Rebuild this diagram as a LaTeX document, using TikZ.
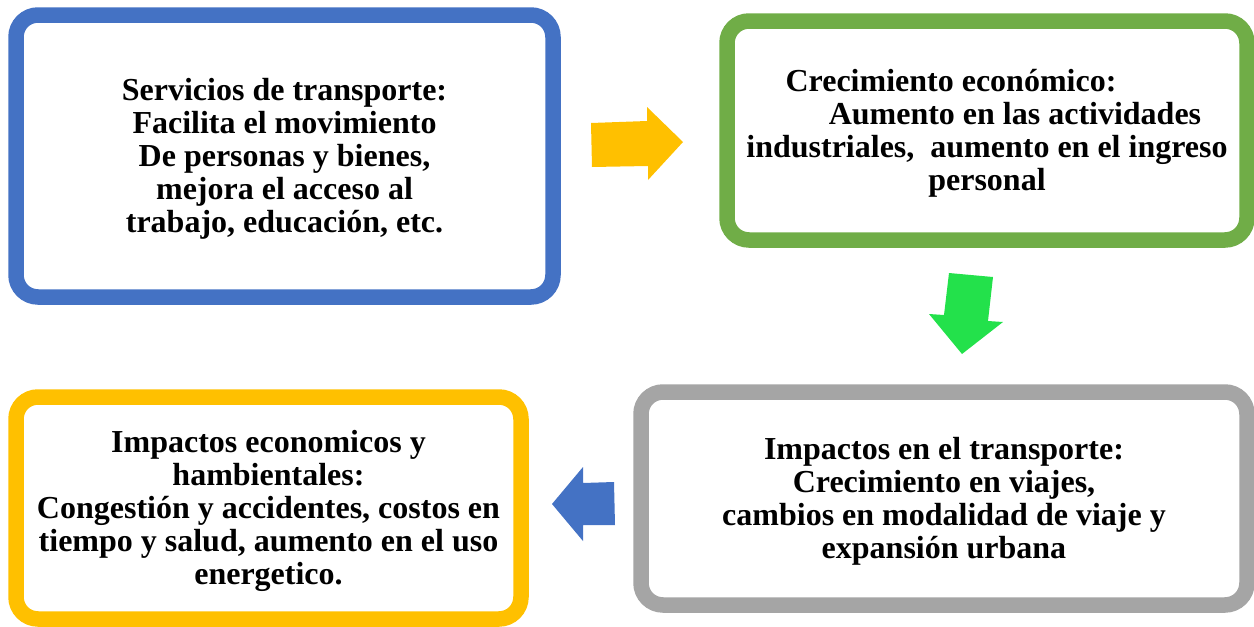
\documentclass[tikz,border=0pt]{standalone}
\usepackage{fontspec}
\setmainfont{Liberation Serif}
\definecolor{boxblue}{RGB}{68,114,196}
\definecolor{boxgreen}{RGB}{112,173,71}
\definecolor{boxgray}{RGB}{165,165,165}
\definecolor{boxyellow}{RGB}{255,192,0}
\definecolor{arrowgreen}{RGB}{35,225,75}
\tikzset{every picture/.style={/utils/exec={\bfseries}}}
\tikzset{flowbox/.style={draw=#1, line width=7.75pt, rounded corners=11pt, inner sep=0pt},
  boxtext/.style={align=center, inner sep=0pt, font=\fontsize{16}{16.5}\selectfont\bfseries}}

\begin{document}
\begin{tikzpicture}[x=0.5pt, y=-0.5pt]
  \useasboundingbox (0,0) rectangle (1254,627);

  \node [flowbox=boxblue, minimum width=268.5pt, minimum height=141pt] (serv) at (284.5,156) {};
  \node [flowbox=boxgreen, minimum width=260pt, minimum height=109.5pt] (crec) at (987,130.5) {};
  \node [flowbox=boxgray, minimum width=303pt, minimum height=106.5pt] (trans) at (944,498.5) {};
  \node [flowbox=boxyellow, minimum width=252.5pt, minimum height=111pt] (ambi) at (268.5,508) {};

  \node [boxtext] (servtext) at ([yshift=-1.5pt]serv.center)
    {Servicios de transporte:\\ Facilita el movimiento\\ De personas y bienes,\\ mejora el acceso al\\ trabajo, educación, etc.};
  \node [boxtext] (crectext) at ([yshift=-1.5pt]crec.center)
    {\hbox{Crecimiento económico:\kern36pt}\\ \hbox{\kern28pt Aumento en las actividades}\\ industriales,\ \ aumento en el ingreso\\ personal};
  \node [boxtext] (transtext) at ([yshift=-1.5pt]trans.center)
    {Impactos en el transporte:\\ Crecimiento en viajes,\\ cambios en modalidad de viaje y\\ expansión urbana};
  \node [boxtext] (ambitext) at ([yshift=-1.5pt]ambi.center)
    {Impactos economicos y\\ hambientales:\\ Congestión y accidentes, costos en\\ tiempo y salud, aumento en el uso\\ energetico.};

  % block arrows between the boxes
  \fill [boxyellow] (591,123) -- (647,121) -- (647,107) -- (683,142) -- (648,180) -- (648,166) -- (592,167) -- cycle;
  \fill [arrowgreen] (949,273) -- (993,277) -- (988,321) -- (1003,322) -- (962,354) -- (929,314) -- (944,315) -- cycle;
  \fill [boxblue] (552,504) -- (583,467) -- (583,483) -- (614,482) -- (615,525) -- (583,525) -- (583,541) -- cycle;

\end{tikzpicture}
\end{document}
